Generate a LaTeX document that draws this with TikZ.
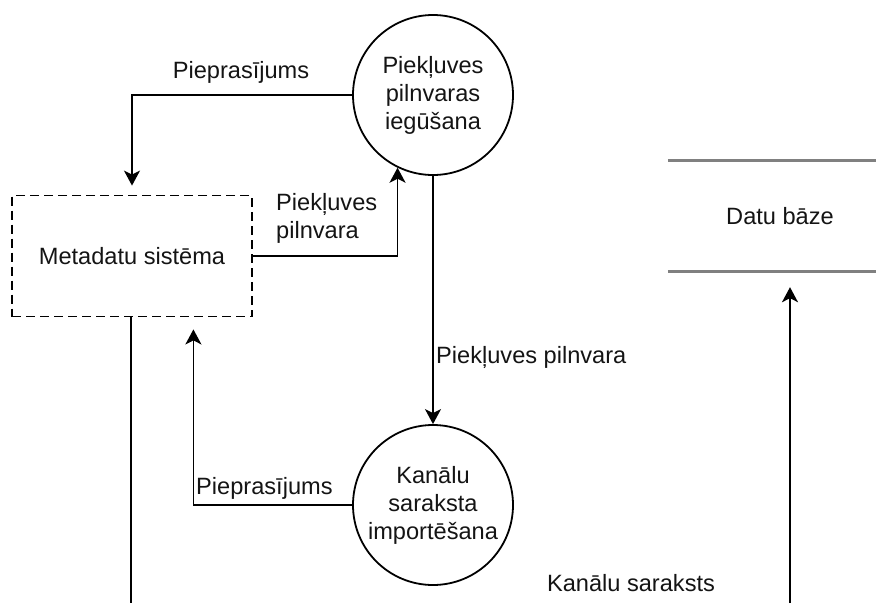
\documentclass[tikz,border=0pt]{standalone}
\usepackage{fontspec}
\setmainfont{Liberation Sans}
\usetikzlibrary{arrows.meta}

\definecolor{txtgray}{RGB}{20,20,20}
\definecolor{storegray}{RGB}{128,128,128}

\tikzset{
    lbl/.style={text=txtgray, inner sep=0pt, font=\fontsize{23.6}{28}\selectfont},
    process/.style={circle, draw, line width=1.8pt, minimum size=160pt,
        inner sep=0pt, align=center, lbl},
    extsys/.style={draw, dash pattern=on 9pt off 5pt, line width=1.8pt,
        minimum width=240pt, minimum height=121pt, inner sep=0pt, lbl},
    store/.style={minimum width=224pt, minimum height=110pt, inner sep=0pt, lbl},
    flow/.style={draw, line width=1.8pt,
        -{Stealth[length=15pt, width=16pt, inset=4pt]}},
    plain/.style={draw, line width=1.8pt}
}

\begin{document}
\begin{tikzpicture}[x=1pt, y=-1pt]
\useasboundingbox (0,0) rectangle (876,603);

% procesi, sistema un datu glabatuve
\node[process] (grant) at (433,95) {Piekļuves\\pilnvaras\\iegūšana};
\node[process] (import) at (433,505) {Kanālu\\saraksta\\importēšana};
\node[extsys] (meta) at (132,256) {Metadatu sistēma};
\node[store] (db) at (780,216) {Datu bāze};

% malas punkti
\coordinate (edgeR) at (876,0);
\coordinate (metaout) at (131,603);
\coordinate (dbin) at (790,603);

% datu glabatuves liniijas
\draw[storegray, line width=3pt] (db.north west) -- (db.north west -| edgeR);
\draw[storegray, line width=3pt] (db.south west) -- (db.south west -| edgeR);

% plusmas
\draw[flow, shorten >=9pt] (grant.west) -| (meta.north);
\draw[flow] (meta.east) -| (grant.244);
\draw[flow] (grant.south) -- (import.north);
\draw[flow, shorten >=12pt] (import.west) -| (meta.315);
\draw[plain] (meta.south -| metaout) -- (metaout);
\draw[flow, shorten >=16pt] (dbin) -- (dbin |- db.south);

% uzraksti
\node[lbl] (lreq1) at (241,72) {Pieprasījums};
\node[lbl, anchor=west, align=left] (lgrant1) at (276,218) {Piekļuves\\pilnvara};
\node[lbl, anchor=west] (lgrant2) at (436,357) {Piekļuves pilnvara};
\node[lbl, anchor=west] (lreq2) at (196,488) {Pieprasījums};
\node[lbl] (llist) at (631,583) {Kanālu saraksts};
\end{tikzpicture}
\end{document}
